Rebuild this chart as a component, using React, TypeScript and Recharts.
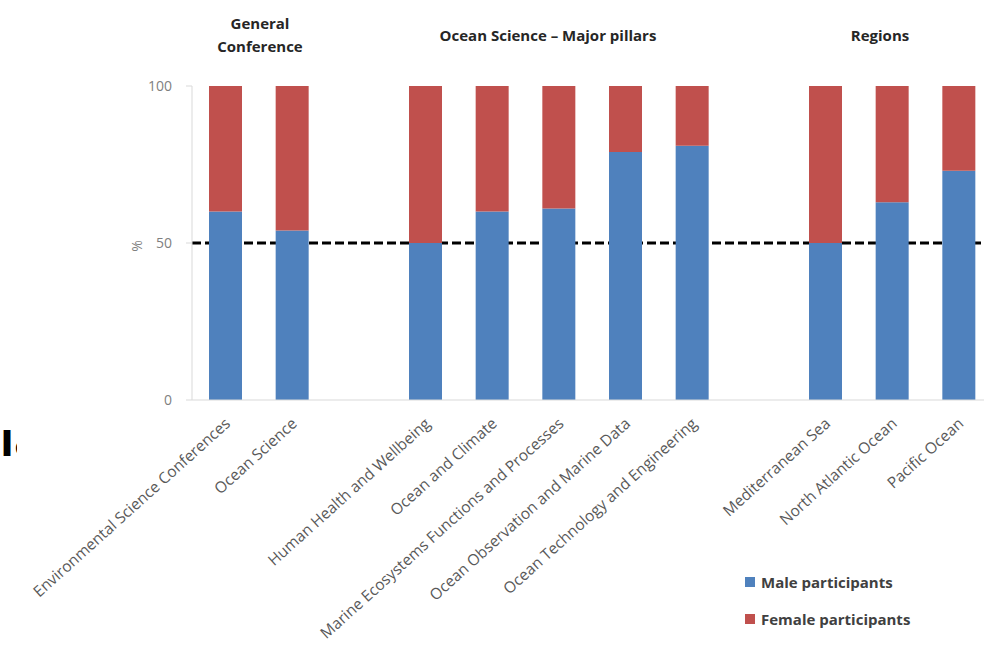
import { Bar, BarChart, Legend, ReferenceLine, XAxis, YAxis } from 'recharts';

// categories ('' = empty slot between groups)
const categories = [
  'Environmental Science Conferences',
  'Ocean Science',
  '',
  'Human Health and Wellbeing',
  'Ocean and Climate',
  'Marine Ecosystems Functions and Processes',
  'Ocean Observation and Marine Data',
  'Ocean Technology and Engineering',
  '',
  'Mediterranean Sea',
  'North Atlantic Ocean',
  'Pacific Ocean',
];
const male = [60, 54, null, 50, 60, 61, 79, 81, null, 50, 63, 73];
const female = [40, 46, null, 50, 40, 39, 21, 19, null, 50, 37, 27];
const yTicks = [0, 50, 100];
const parityLine = 50;
const legendOrder = ['male', 'female'];

const groupTitles = [
  { lines: ['General', 'Conference'], cx: 260, top: 12 },
  { lines: ['Ocean Science – Major pillars'], cx: 548, top: 24 },
  { lines: ['Regions'], cx: 880, top: 24 },
];

const data = categories.map((name, i) => ({
  name,
  male: male[i],
  female: female[i],
}));

const FONT = "'Open Sans', sans-serif";

const AngledTick = ({ x, y, payload }: any) => {
  if (!payload || !payload.value) return null;
  return (
    <g transform={`translate(${x + 6},${y + 25}) rotate(-42)`}>
      <text x={0} y={0} textAnchor="end" fill="#595959" fontSize={15.5} fontFamily={FONT}>
        {payload.value}
      </text>
    </g>
  );
};

const PercentLabel = ({ viewBox }: any) => {
  const x = viewBox.x + 4;
  const y = viewBox.y + viewBox.height / 2 + 3;
  return (
    <text
      x={x}
      y={y}
      transform={`rotate(-90 ${x} ${y})`}
      textAnchor="middle"
      dominantBaseline="central"
      fill="#7f7f7f"
      fontSize={14}
      fontFamily={FONT}
    >
      %
    </text>
  );
};

const LegendBox = ({ payload }: any) => {
  const items = [...(payload || [])].sort(
    (a: any, b: any) => legendOrder.indexOf(a.dataKey) - legendOrder.indexOf(b.dataKey)
  );
  return (
    <div>
      {items.map((p: any) => (
        <div
          key={p.value}
          style={{
            display: 'flex',
            alignItems: 'center',
            height: 37,
            fontFamily: FONT,
            fontWeight: 700,
            fontSize: 15,
            color: '#404040',
          }}
        >
          <span style={{ width: 10, height: 10, background: p.color, marginRight: 6 }} />
          {p.value}
        </div>
      ))}
    </div>
  );
};

const App = () => {
  return (
    <div
      style={{
        position: 'absolute',
        left: 0,
        top: 0,
        width: 984,
        height: 651,
        overflow: 'hidden',
        background: '#fff',
        fontFamily: FONT,
      }}
    >
      <BarChart
        width={1000}
        height={651}
        data={data}
        barSize={33}
        margin={{ top: 86, right: 8, left: 132, bottom: 51 }}
      >
        <XAxis
          dataKey="name"
          interval={0}
          height={200}
          tick={<AngledTick />}
          tickLine={false}
          tickSize={0}
          tickMargin={0}
          stroke="#d9d9d9"
        />
        <YAxis
          domain={[0, 100]}
          ticks={yTicks}
          width={60}
          tickSize={6}
          tickMargin={14}
          stroke="#d9d9d9"
          tick={{ fill: '#7f7f7f', fontSize: 14, fontFamily: FONT }}
          label={<PercentLabel />}
        />
        <ReferenceLine
          y={parityLine}
          stroke="#000"
          strokeWidth={3}
          strokeDasharray="9 4"
          zIndex={-50}
        />
        <Bar
          dataKey="male"
          name="Male participants"
          stackId="a"
          fill="#4f81bd"
          isAnimationActive={false}
        />
        <Bar
          dataKey="female"
          name="Female participants"
          stackId="a"
          fill="#c0504d"
          isAnimationActive={false}
        />
        <Legend
          layout="horizontal"
          verticalAlign="middle"
          align="center"
          content={<LegendBox />}
          wrapperStyle={{ position: 'absolute', left: 745, top: 563, width: 230 }}
        />
      </BarChart>

      {groupTitles.map((g) => (
        <div
          key={g.lines[0]}
          style={{
            position: 'absolute',
            left: g.cx - 150,
            top: g.top,
            width: 300,
            textAlign: 'center',
            fontWeight: 700,
            fontSize: 15,
            lineHeight: '23px',
            color: '#262626',
          }}
        >
          {g.lines.map((l) => (
            <div key={l}>{l}</div>
          ))}
        </div>
      ))}

      {/* clipped fragment at the left edge of the source image */}
      <div
        style={{
          position: 'absolute',
          left: 0,
          top: 408,
          width: 17,
          overflow: 'hidden',
          fontWeight: 700,
          fontSize: 46,
          lineHeight: '60px',
          color: '#000',
          whiteSpace: 'nowrap',
        }}
      >
        ıa
      </div>
    </div>
  );
};

export default App;
